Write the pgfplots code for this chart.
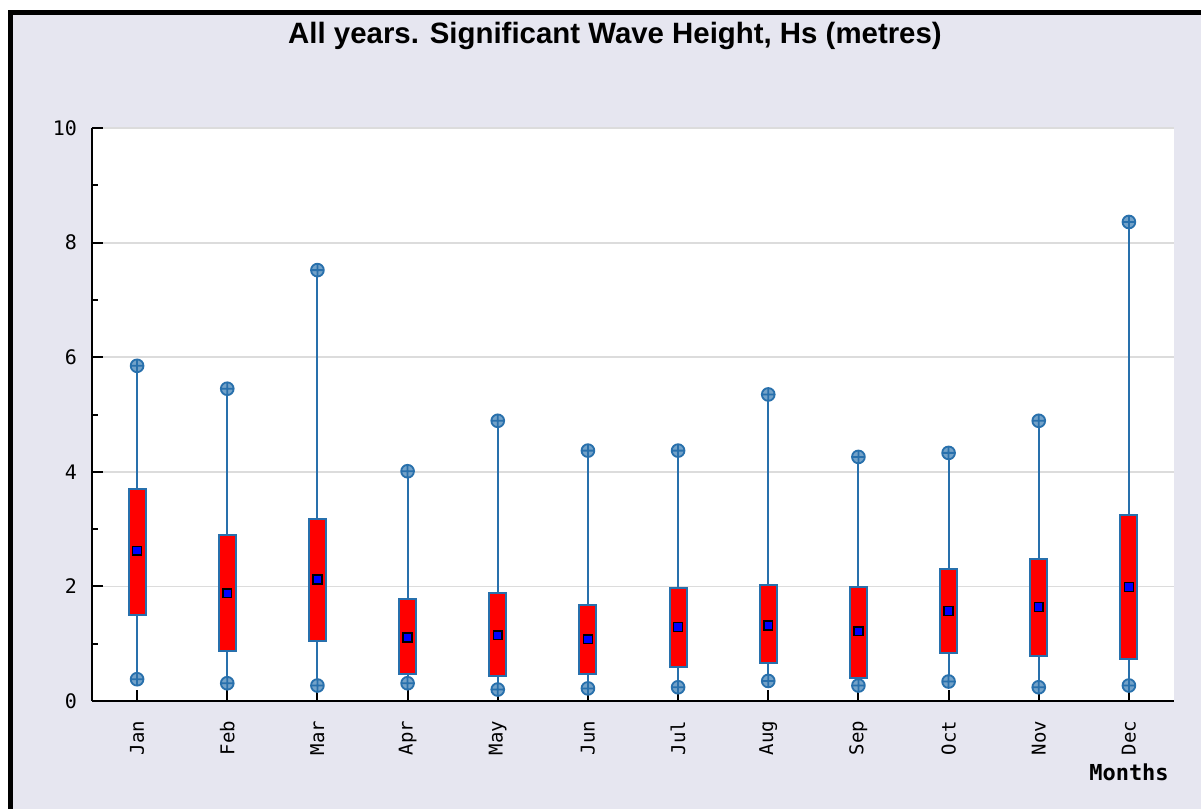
\documentclass[border=0pt]{standalone}
\usepackage{pgfplots}
\pgfplotsset{compat=1.18}
\usepgfplotslibrary{statistics}
\usepackage{fontspec}
\setmainfont{Liberation Sans}
\newfontfamily\monofont{DejaVu Sans Mono}
\definecolor{bgc}{RGB}{230,230,240}
\definecolor{whisk}{RGB}{40,112,172}
\definecolor{gridc}{RGB}{220,220,220}
\newcommand{\bp}[6]{%
\addplot[boxplot prepared={draw position=#1, lower whisker=#2, lower quartile=#3, median=#4, upper quartile=#5, upper whisker=#6}] coordinates {};}
\begin{document}
\begin{tikzpicture}
\useasboundingbox (0,0) rectangle (600.5pt,-404.5pt);
\fill[white] (0,0) rectangle (600.5pt,-404.5pt);
\fill[bgc] (6.6pt,-7.5pt) rectangle (600.5pt,-404.5pt);
\draw[black, line width=2.5pt] (5.4pt,-404.5pt) -- (5.4pt,-6.25pt) -- (600.5pt,-6.25pt);
\node[font=\bfseries\fontsize{14.7}{16}\selectfont] at (307.5pt,-18pt) {All years. Significant Wave Height, Hs (metres)};
\begin{axis}[
  at={(46pt,-350.5pt)}, anchor=south west,
  scale only axis, width=541pt, height=286.5pt,
  xmin=-0.5, xmax=11.5, ymin=0, ymax=10,
  axis background/.style={fill=white},
  axis x line*=bottom, axis y line*=left,
  axis line style={line width=1pt, black},
  xtick={0,...,11},
  xticklabels={Jan,Feb,Mar,Apr,May,Jun,Jul,Aug,Sep,Oct,Nov,Dec},
  ytick={0,2,4,6,8,10},
  minor ytick={1,3,5,7,9},
  tick align=inside,
  major tick length=5.5pt, minor tick length=3pt,
  tick style={black, line width=1pt},
  ymajorgrids,
  major grid style={gridc, line width=0.9pt},
  /pgf/number format/assume math mode=true,
  xticklabel style={rotate=90, anchor=east, font=\monofont\fontsize{9.5}{11}\selectfont},
  xticklabel shift=6.5pt,
  yticklabel style={font=\monofont\fontsize{10}{12}\selectfont, xshift=-4pt},
  boxplot/draw direction=y,
  boxplot/box extend=0.19,
  boxplot/whisker extend=0,
  boxplot/every box/.style={draw=whisk, fill=red, line width=1pt},
  boxplot/every whisker/.style={draw=whisk, line width=1pt},
  boxplot/every median/.style={draw=none},
  clip=false,
]
\bp{0}{0.38}{1.50}{2.62}{3.70}{5.85}
\bp{1}{0.31}{0.87}{1.88}{2.90}{5.45}
\bp{2}{0.27}{1.04}{2.12}{3.18}{7.52}
\bp{3}{0.31}{0.48}{1.11}{1.78}{4.01}
\bp{4}{0.20}{0.44}{1.15}{1.88}{4.89}
\bp{5}{0.22}{0.48}{1.08}{1.67}{4.37}
\bp{6}{0.24}{0.59}{1.29}{1.98}{4.37}
\bp{7}{0.35}{0.67}{1.32}{2.02}{5.35}
\bp{8}{0.27}{0.41}{1.22}{1.99}{4.26}
\bp{9}{0.34}{0.83}{1.57}{2.30}{4.33}
\bp{10}{0.24}{0.79}{1.64}{2.48}{4.89}
\bp{11}{0.27}{0.73}{1.99}{3.24}{8.36}
% whisker ends
\addplot[only marks, mark=oplus*, mark size=3.2pt, mark options={fill=whisk!65!white, draw=whisk, line width=0.9pt}] coordinates {
(0,0.38) (0,5.85) (1,0.31) (1,5.45) (2,0.27) (2,7.52) (3,0.31) (3,4.01)
(4,0.20) (4,4.89) (5,0.22) (5,4.37) (6,0.24) (6,4.37) (7,0.35) (7,5.35)
(8,0.27) (8,4.26) (9,0.34) (9,4.33) (10,0.24) (10,4.89) (11,0.27) (11,8.36)};
% means
\addplot[only marks, mark=square*, mark size=2.2pt, mark options={fill=blue, draw=black, line width=0.8pt}] coordinates {
(0,2.62) (1,1.88) (2,2.12) (3,1.11) (4,1.15) (5,1.08) (6,1.29) (7,1.32) (8,1.22) (9,1.57) (10,1.64) (11,1.99)};
\end{axis}
\node[font=\monofont\bfseries\fontsize{11}{12}\selectfont] at (564.5pt,-386pt) {Months};
\end{tikzpicture}
\end{document}
